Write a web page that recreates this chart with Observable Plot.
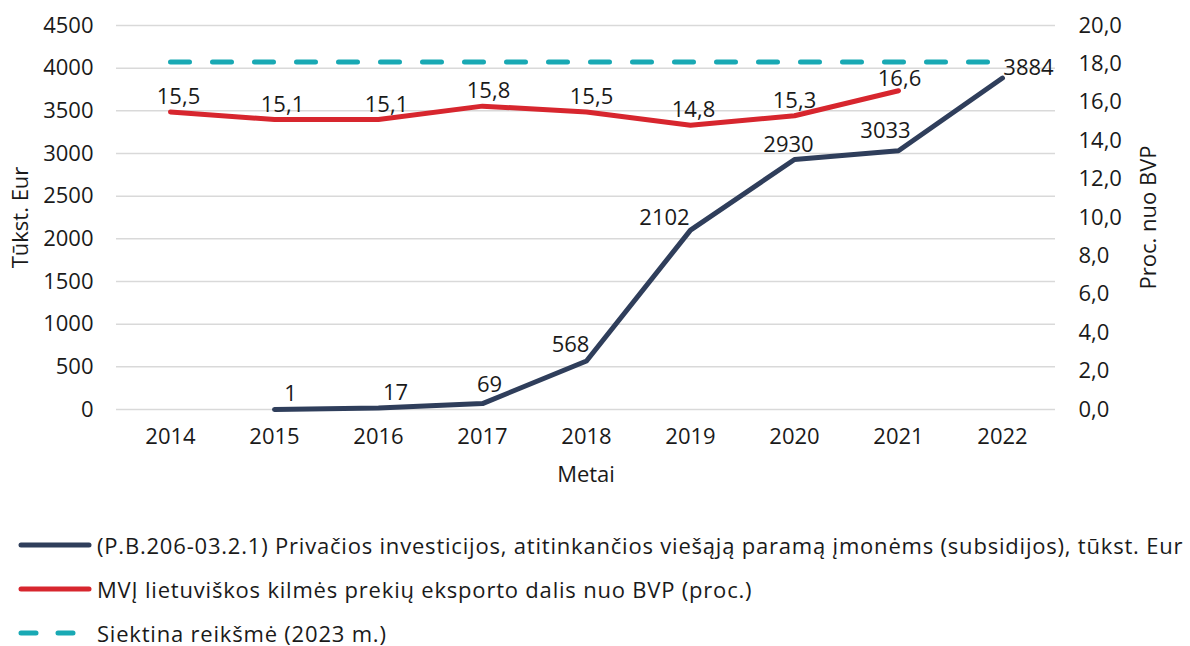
<!DOCTYPE html>
<html>
<head>
<meta charset="utf-8">
<script src="https://cdn.jsdelivr.net/npm/d3@7"></script>
<script src="https://cdn.jsdelivr.net/npm/@observablehq/plot@0.6"></script>
<style>
  body { margin: 0; background: #fff; font-family: "Open Sans", sans-serif; }
  #legend { padding-top: 23px; font-size: 22px; letter-spacing: 0.8px; color: #1a1a1a; }
  .row { height: 44px; display: flex; align-items: center; white-space: nowrap; }
  .row svg { margin-left: 18px; margin-right: 5px; flex: none; }
</style>
</head>
<body>
<div id="chart"></div>
<div id="legend"></div>
<script>
const years = ["2014","2015","2016","2017","2018","2019","2020","2021","2022"];
const investYears = ["2015","2016","2017","2018","2019","2020","2021","2022"];
const investValues = [1, 17, 69, 568, 2102, 2930, 3033, 3884];
const exportYears = ["2014","2015","2016","2017","2018","2019","2020","2021"];
const exportValues = [15.5, 15.1, 15.1, 15.8, 15.5, 14.8, 15.3, 16.6];
const targetValue = 18.1;
const leftTicks = [0, 500, 1000, 1500, 2000, 2500, 3000, 3500, 4000, 4500];
const rightTicks = [0, 2, 4, 6, 8, 10, 12, 14, 16, 18, 20];
const seriesNames = [
  "(P.B.206-03.2.1) Privačios investicijos, atitinkančios viešąją paramą įmonėms (subsidijos), tūkst. Eur",
  "MVĮ lietuviškos kilmės prekių eksporto dalis nuo BVP (proc.)",
  "Siektina reikšmė (2023 m.)"
];
const colors = ["#2f3e5b", "#d7262e", "#19a9b4"];

const ratio = 4500 / 20;
const invest = investYears.map((y, i) => ({year: y, value: investValues[i]}));
const exp = exportYears.map((y, i) => ({year: y, value: exportValues[i] * ratio, raw: exportValues[i]}));
const target = years.map(y => ({year: y, value: targetValue * ratio}));

// label placement (Excel-like)
const invDx = {"2015": 16, "2016": 17, "2017": 7, "2018": -16, "2019": -26, "2020": -6, "2021": -13, "2022": 26};
const invDy = {"2015": -15, "2016": -15, "2017": -19, "2018": -16, "2019": -12, "2020": -15, "2021": -20, "2022": -10};
const expDx = {"2014": 8, "2015": 8, "2016": 8, "2017": 6, "2018": 5, "2019": 3, "2020": 0, "2021": 1};
const expDy = {"2014": -15, "2015": -15, "2016": -15, "2017": -15, "2018": -15, "2019": -15, "2020": -15, "2021": -12};

const fmt = v => v.toFixed(1).replace(".", ",");
const fs = 22;

const chart = Plot.plot({
  width: 1190,
  height: 500,
  marginLeft: 116,
  marginRight: 135,
  marginTop: 25,
  marginBottom: 91,
  style: {fontFamily: "Open Sans, sans-serif", fontSize: fs + "px", color: "#1a1a1a", background: "#fff"},
  x: {type: "point", domain: years, padding: 0.5},
  y: {domain: [0, 4500]},
  marks: [
    Plot.ruleY(leftTicks, {stroke: "#d9d9d9", strokeWidth: 1.5}),
    Plot.line(target, {x: "year", y: "value", stroke: colors[2], strokeWidth: 5, strokeDasharray: "19,23", strokeLinecap: "round"}),
    Plot.line(exp, {x: "year", y: "value", stroke: colors[1], strokeWidth: 5, strokeLinejoin: "round", strokeLinecap: "round"}),
    Plot.line(invest, {x: "year", y: "value", stroke: colors[0], strokeWidth: 5, strokeLinejoin: "round", strokeLinecap: "round"}),
    ...exp.map(d => Plot.text([d], {x: "year", y: "value", text: d => fmt(d.raw), dx: expDx[d.year], dy: expDy[d.year], fill: "#1a1a1a", fontSize: fs})),
    ...invest.map(d => Plot.text([d], {x: "year", y: "value", text: d => String(d.value), dx: invDx[d.year], dy: invDy[d.year], fill: "#1a1a1a", fontSize: fs})),
    Plot.axisX({tickSize: 0, tickPadding: 19, label: "Metai", labelAnchor: "center", labelOffset: 72, labelArrow: "none", fontSize: fs}),
    Plot.axisY(leftTicks, {anchor: "left", tickSize: 0, tickPadding: 23, tickFormat: d => String(d), label: "Tūkst. Eur", labelAnchor: "center", labelOffset: 104, labelArrow: "none", fontSize: fs}),
    Plot.axisY(rightTicks.map(v => v * ratio), {anchor: "right", tickSize: 0, tickPadding: 23, tickFormat: v => fmt(v / ratio), label: "Proc. nuo BVP", labelAnchor: "center", labelOffset: 100, labelArrow: "none", fontSize: fs})
  ]
});
document.getElementById("chart").appendChild(chart);

const legend = document.getElementById("legend");
seriesNames.forEach((name, i) => {
  const row = document.createElement("div");
  row.className = "row";
  const dash = i === 2 ? ' stroke-dasharray="15,22"' : '';
  row.innerHTML = `<svg width="74" height="10"><line x1="3" y1="5" x2="71" y2="5" stroke="${colors[i]}" stroke-width="5" stroke-linecap="round"${dash}/></svg><span>${name}</span>`;
  legend.appendChild(row);
});
</script>
</body>
</html>
